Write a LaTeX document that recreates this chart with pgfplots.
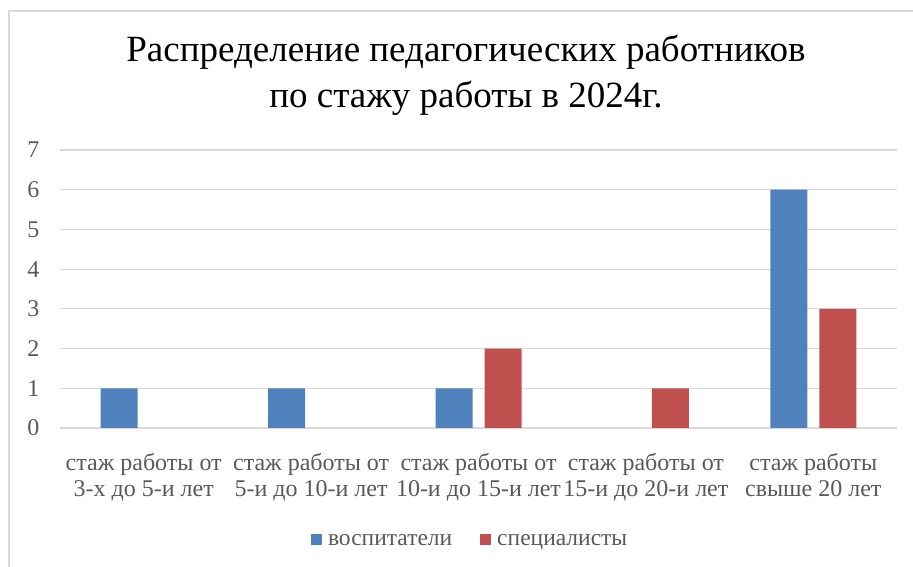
\documentclass[border=0pt]{standalone}
\usepackage{fontspec}
\setmainfont{Liberation Serif}
\usepackage{pgfplots}
\pgfplotsset{compat=1.18}
\definecolor{cblue}{HTML}{4F81BD}
\definecolor{cred}{HTML}{C0504D}
\definecolor{cgrid}{HTML}{D9D9D9}
\definecolor{ctext}{HTML}{595959}
\begin{document}
\begin{tikzpicture}[x=1pt,y=1pt]
\useasboundingbox (0,0) rectangle (913,567);
\draw[cgrid,line width=1.5pt] (9,0) -- (9,556) -- (913,556);
\node[align=center,font=\fontsize{37}{46}\selectfont,anchor=base] at (466,459) {Распределение педагогических работников\\по стажу работы в 2024г.};
\begin{axis}[
  at={(60pt,139pt)}, anchor=south west,
  scale only axis, width=837pt, height=278pt,
  xmin=-0.5, xmax=4.5, ymin=0, ymax=7,
  ybar=12pt, bar width=37pt,
  axis line style={draw=none},
  major tick style={draw=none},
  ymajorgrids, grid style={cgrid,line width=1.2pt},
  ytick={0,1,...,7},
  xtick={0,1,2,3,4},
  xticklabels={{стаж работы от\\3-х до 5-и лет},{стаж работы от\\5-и до 10-и лет},{стаж работы от\\10-и до 15-и лет},{стаж работы от\\15-и до 20-и лет},{стаж работы\\свыше 20 лет}},
  xticklabel style={align=center,font=\fontsize{24}{26}\selectfont,text=ctext,yshift=-18pt},
  yticklabel style={font=\fontsize{24}{26}\selectfont,text=ctext,xshift=-17pt},
  /pgf/number format/assume math mode=true,
  legend columns=2,
  legend style={at={(0.49,-0.405)},anchor=center,draw=none,fill=none,font=\fontsize{23.5}{26}\selectfont,text=ctext,
    /tikz/every even column/.append style={column sep=26pt}},
  legend image code/.code={\fill[#1] (0pt,-4pt) rectangle (11pt,7pt);},
]
\addplot[fill=cblue,draw=none] coordinates {(0,1) (1,1) (2,1) (4,6)};
\addplot[fill=cred,draw=none] coordinates {(2,2) (3,1) (4,3)};
\legend{\hspace{4pt}воспитатели,\hspace{4pt}специалисты}
\end{axis}
\end{tikzpicture}
\end{document}
